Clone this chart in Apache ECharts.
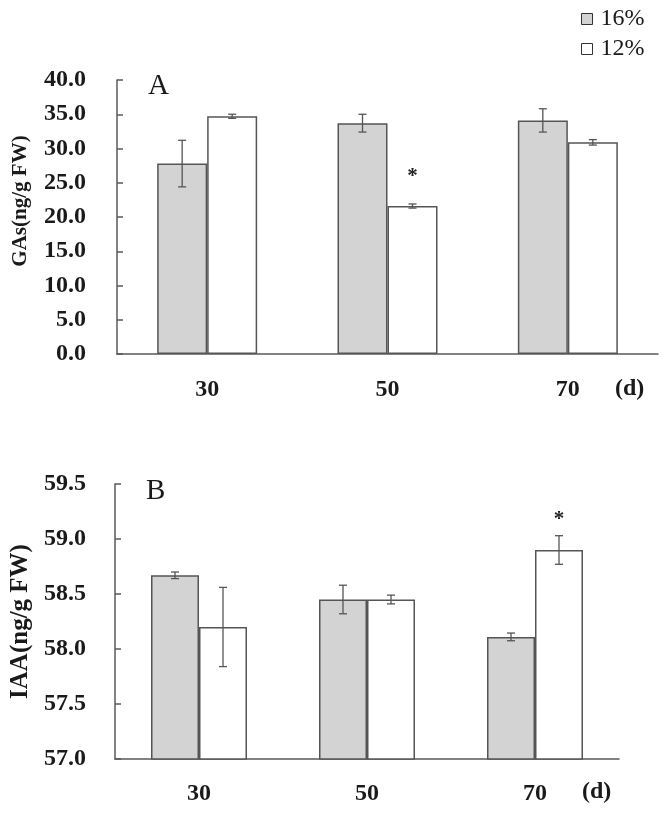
<!DOCTYPE html>
<html><head><meta charset="utf-8">
<script src="https://cdn.jsdelivr.net/npm/echarts@6/dist/echarts.min.js"></script>
<style>html,body{margin:0;padding:0;background:#fff}#c{width:664px;height:821px}</style>
</head><body><div id="c"></div>
<script>
const days = ['30', '50', '70'];
const seriesNames = ['16%', '12%'];
// Panel A: GAs (ng/g FW)
const gasHigh = [27.8, 33.7, 34.1];
const gasHighErr = [3.4, 1.3, 1.7];
const gasLow = [34.7, 21.6, 30.9];
const gasLowErr = [0.3, 0.3, 0.4];
const gasHighSig = [false, false, false];
const gasLowSig = [false, true, false];
// Panel B: IAA (ng/g FW)
const iaaHigh = [58.67, 58.45, 58.11];
const iaaHighErr = [0.03, 0.13, 0.035];
const iaaLow = [58.20, 58.45, 58.90];
const iaaLowErr = [0.36, 0.04, 0.13];
const iaaHighSig = [false, false, false];
const iaaLowSig = [false, false, true];
// axis ranges
const gasAxis = {min: 0, max: 40, interval: 5};
const iaaAxis = {min: 57, max: 59.5, interval: 0.5};

const FONT = "'Liberation Serif', 'Times New Roman', serif";
const AX = '#5a5a5a';
const GRAY = '#d3d3d3';
const EDGE = '#555';
const TXT = '#1a1a1a';

function errRender(offsetPx, starGap) {
  return function (params, api) {
    const i = api.value(0), v = api.value(1), e = api.value(2), sig = api.value(3);
    const top = api.coord([i, v + e]);
    const bot = api.coord([i, v - e]);
    const x = top[0] + offsetPx;
    const cap = 4;
    const style = {stroke: EDGE, lineWidth: 1.3};
    const children = [
      {type: 'line', shape: {x1: x, y1: top[1], x2: x, y2: bot[1]}, style},
      {type: 'line', shape: {x1: x - cap, y1: top[1], x2: x + cap, y2: top[1]}, style},
      {type: 'line', shape: {x1: x - cap, y1: bot[1], x2: x + cap, y2: bot[1]}, style}
    ];
    if (sig) {
      children.push({type: 'text', style: {text: '*', x: x, y: top[1] - starGap, align: 'center', verticalAlign: 'middle',
        font: 'bold 21px ' + FONT, fill: '#222'}});
    }
    return {type: 'group', children};
  };
}
function errData(vals, errs, sigs) {
  return vals.map((v, i) => [i, v, errs[i], sigs[i] ? 1 : 0]);
}

const axisLabelY = (margin) => ({
  fontFamily: FONT, fontWeight: 'bold', fontSize: 24, color: TXT, margin,
  formatter: v => v.toFixed(1)
});

const option = {
  animation: false,
  backgroundColor: '#fff',
  legend: {
    data: seriesNames, orient: 'vertical', left: 576, top: 2, itemGap: 6,
    itemWidth: 11, itemHeight: 11, icon: 'rect',
    textStyle: {fontFamily: FONT, fontSize: 24, color: TXT, padding: [0, 0, 0, 3]},
    itemStyle: {borderColor: '#333', borderWidth: 1}
  },
  grid: [
    {left: 117, top: 80, width: 541, height: 274},
    {left: 114, top: 484, width: 505, height: 275}
  ],
  xAxis: [
    {type: 'category', gridIndex: 0, data: days,
      axisLine: {lineStyle: {color: AX, width: 1.5}},
      axisTick: {inside: true, length: 6, lineStyle: {color: AX, width: 1.5}},
      axisLabel: {fontFamily: FONT, fontWeight: 'bold', fontSize: 24, color: TXT, margin: 24}},
    {type: 'category', gridIndex: 1, data: days,
      axisLine: {lineStyle: {color: AX, width: 1.5}},
      axisTick: {inside: true, length: 6, lineStyle: {color: AX, width: 1.5}},
      axisLabel: {fontFamily: FONT, fontWeight: 'bold', fontSize: 24, color: TXT, margin: 23}}
  ],
  yAxis: [
    {type: 'value', gridIndex: 0, min: gasAxis.min, max: gasAxis.max, interval: gasAxis.interval,
      name: 'GAs(ng/g FW)', nameLocation: 'middle', nameGap: 86, nameRotate: 90,
      nameTextStyle: {fontFamily: FONT, fontWeight: 'bold', fontSize: 21, color: TXT, padding: [0, 0, 0, 32]},
      axisLine: {show: true, lineStyle: {color: AX, width: 1.5}},
      axisTick: {show: true, inside: true, length: 6, lineStyle: {color: AX, width: 1.5}},
      splitLine: {show: false},
      axisLabel: axisLabelY(31)},
    {type: 'value', gridIndex: 1, min: iaaAxis.min, max: iaaAxis.max, interval: iaaAxis.interval,
      name: 'IAA(ng/g FW)', nameLocation: 'middle', nameGap: 82, nameRotate: 90,
      nameTextStyle: {fontFamily: FONT, fontWeight: 'bold', fontSize: 25, color: TXT},
      axisLine: {show: true, lineStyle: {color: AX, width: 1.5}},
      axisTick: {show: true, inside: true, length: 6, lineStyle: {color: AX, width: 1.5}},
      splitLine: {show: false},
      axisLabel: axisLabelY(29)}
  ],
  series: [
    {name: seriesNames[0], type: 'bar', xAxisIndex: 0, yAxisIndex: 0, data: gasHigh, barWidth: 50, barGap: '0%',
      itemStyle: {color: GRAY, borderColor: EDGE, borderWidth: 1.5}},
    {name: seriesNames[1], type: 'bar', xAxisIndex: 0, yAxisIndex: 0, data: gasLow, barWidth: 50, barGap: '0%',
      itemStyle: {color: '#fff', borderColor: EDGE, borderWidth: 1.5}},
    {name: seriesNames[0], type: 'bar', xAxisIndex: 1, yAxisIndex: 1, data: iaaHigh, barWidth: 48, barGap: '0%',
      itemStyle: {color: GRAY, borderColor: EDGE, borderWidth: 1.5}},
    {name: seriesNames[1], type: 'bar', xAxisIndex: 1, yAxisIndex: 1, data: iaaLow, barWidth: 48, barGap: '0%',
      itemStyle: {color: '#fff', borderColor: EDGE, borderWidth: 1.5}},
    {type: 'custom', xAxisIndex: 0, yAxisIndex: 0, renderItem: errRender(-25, 27), data: errData(gasHigh, gasHighErr, gasHighSig), z: 5, clip: false},
    {type: 'custom', xAxisIndex: 0, yAxisIndex: 0, renderItem: errRender(25, 27), data: errData(gasLow, gasLowErr, gasLowSig), z: 5, clip: false},
    {type: 'custom', xAxisIndex: 1, yAxisIndex: 1, renderItem: errRender(-24, 16), data: errData(iaaHigh, iaaHighErr, iaaHighSig), z: 5, clip: false},
    {type: 'custom', xAxisIndex: 1, yAxisIndex: 1, renderItem: errRender(24, 16), data: errData(iaaLow, iaaLowErr, iaaLowSig), z: 5, clip: false}
  ],
  graphic: [
    {type: 'text', left: 148, top: 72, style: {text: 'A', font: '29px ' + FONT, fill: TXT}},
    {type: 'text', left: 146, top: 477, style: {text: 'B', font: '29px ' + FONT, fill: TXT}},
    {type: 'text', left: 615, top: 377, style: {text: '(d)', font: 'bold 24px ' + FONT, fill: TXT}},
    {type: 'text', left: 582, top: 780, style: {text: '(d)', font: 'bold 24px ' + FONT, fill: TXT}}
  ]
};
const chart = echarts.init(document.getElementById('c'));
chart.setOption(option);
</script>
</body></html>
